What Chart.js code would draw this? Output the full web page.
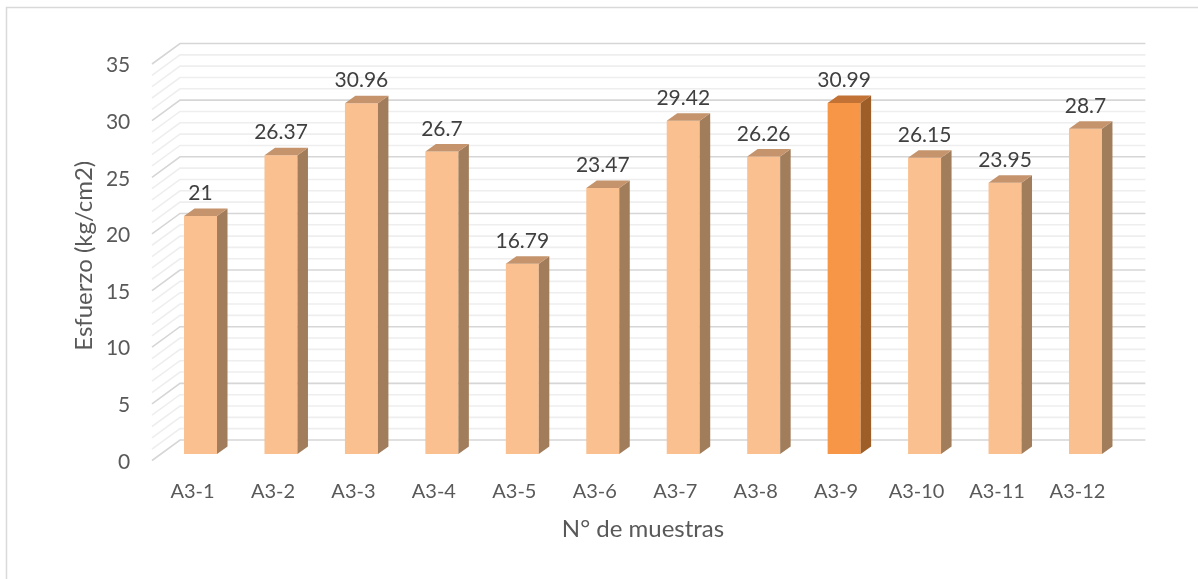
<!DOCTYPE html>
<html>
<head>
<meta charset="utf-8">
<script src="https://cdn.jsdelivr.net/npm/chart.js@4.4.1/dist/chart.umd.min.js"></script>
<style>
  html, body { margin: 0; padding: 0; background: #ffffff; }
  #wrap { width: 1198px; height: 579px; position: relative; }
</style>
</head>
<body>
<div id="wrap"><canvas id="c" width="1198" height="579"></canvas></div>
<script>
// Sample names and measured stress (kg/cm2)
const categories = ['A3-1', 'A3-2', 'A3-3', 'A3-4', 'A3-5', 'A3-6',
                    'A3-7', 'A3-8', 'A3-9', 'A3-10', 'A3-11', 'A3-12'];
const esfuerzo = [21, 26.37, 30.96, 26.7, 16.79, 23.47, 29.42, 26.26, 30.99, 26.15, 23.95, 28.7];

// Value axis range and tick step
const yMin = 0;
const yMax = 35;
const yStep = 5;

// Sample drawn in the stronger orange
const highlighted = 'A3-9';

// Styling
const FONT = 'Lato, "Open Sans", "Liberation Sans", sans-serif';
const AXIS_TEXT = '#595959';
const LABEL_TEXT = '#404040';
const PALETTE = {
  normal:    { front: '#FAC090', side: '#A27D5B', top: '#C5946C' },
  highlight: { front: '#F79646', side: '#9E5E27', top: '#C27234' }
};

// Pseudo-3D offsets relative to the plane the bars' front faces sit in
const FRONT_EDGE = { dx: -8.3, dy: 6.5 };   // front edge of the side wall
const BACK_WALL  = { dx: 19.7, dy: -14 };   // back wall
const BAR_DEPTH  = { dx: 10.5, dy: -7.5 };  // depth of each column

function paletteFor(i) {
  return categories[i] === highlighted ? PALETTE.highlight : PALETTE.normal;
}

// Outer frame of the chart object
const framePlugin = {
  id: 'frame',
  beforeDraw(chart) {
    const ctx = chart.ctx;
    ctx.save();
    ctx.strokeStyle = '#d9d9d9';
    ctx.lineWidth = 1.5;
    ctx.strokeRect(6.5, 7.5, chart.width + 50, chart.height + 50);
    ctx.restore();
  }
};

// Side wall and back wall gridlines (major every step, minor every unit)
const wallsPlugin = {
  id: 'walls',
  beforeDatasetsDraw(chart) {
    const { ctx, chartArea: area } = chart;
    const ys = chart.scales.y;
    ctx.save();
    ctx.lineCap = 'butt';
    const draw = (major) => {
      for (let v = yMin; v <= yMax; v += 1) {
        const isMajor = v % yStep === 0;
        if (isMajor !== major) continue;
        const py = ys.getPixelForValue(v);
        ctx.strokeStyle = major ? '#d6d6d6' : '#eeeeee';
        ctx.lineWidth = 1.6;
        ctx.beginPath();
        ctx.moveTo(area.left + FRONT_EDGE.dx, py + FRONT_EDGE.dy);
        ctx.lineTo(area.left + BACK_WALL.dx, py + BACK_WALL.dy);
        ctx.lineTo(area.right + BACK_WALL.dx, py + BACK_WALL.dy);
        ctx.stroke();
      }
    };
    draw(false);
    draw(true);
    ctx.restore();
  }
};

// Side and top faces of each column, plus the value label
const columnsPlugin = {
  id: 'columns',
  afterDatasetsDraw(chart) {
    const ctx = chart.ctx;
    const meta = chart.getDatasetMeta(0);
    ctx.save();
    meta.data.forEach((bar, i) => {
      const { x, y, base, width } = bar.getProps(['x', 'y', 'base', 'width'], true);
      const x0 = x - width / 2;
      const x1 = x + width / 2;
      const c = paletteFor(i);
      // right side face
      ctx.fillStyle = c.side;
      ctx.beginPath();
      ctx.moveTo(x1, y);
      ctx.lineTo(x1 + BAR_DEPTH.dx, y + BAR_DEPTH.dy);
      ctx.lineTo(x1 + BAR_DEPTH.dx, base + BAR_DEPTH.dy);
      ctx.lineTo(x1, base);
      ctx.closePath();
      ctx.fill();
      // top face
      ctx.fillStyle = c.top;
      ctx.beginPath();
      ctx.moveTo(x0, y);
      ctx.lineTo(x1, y);
      ctx.lineTo(x1 + BAR_DEPTH.dx, y + BAR_DEPTH.dy);
      ctx.lineTo(x0 + BAR_DEPTH.dx, y + BAR_DEPTH.dy);
      ctx.closePath();
      ctx.fill();
      // value label
      ctx.fillStyle = LABEL_TEXT;
      ctx.font = '21px ' + FONT;
      ctx.textAlign = 'center';
      ctx.textBaseline = 'alphabetic';
      ctx.fillText(String(esfuerzo[i]), x, y - 16);
    });
    ctx.restore();
  }
};

function build() {
  new Chart(document.getElementById('c'), {
    type: 'bar',
    data: {
      labels: categories,
      datasets: [{
        label: 'Esfuerzo',
        data: esfuerzo,
        backgroundColor: categories.map((_, i) => paletteFor(i).front),
        borderWidth: 0,
        categoryPercentage: 1,
        barPercentage: 0.41
      }]
    },
    options: {
      responsive: false,
      animation: false,
      devicePixelRatio: 1,
      layout: { padding: { top: 57.5, right: 72.3, bottom: 0, left: 0 } },
      plugins: { legend: { display: false }, tooltip: { enabled: false } },
      scales: {
        x: {
          grid: { display: false, drawTicks: false },
          border: { display: false },
          ticks: {
            color: AXIS_TEXT,
            font: { family: FONT, size: 20 },
            padding: 26,
            labelOffset: -8,
            maxRotation: 0,
            autoSkip: false
          },
          title: {
            display: true,
            text: 'N° de muestras',
            color: AXIS_TEXT,
            font: { family: FONT, size: 24 },
            padding: { top: 0, bottom: 35.6 }
          },
          afterFit(s) { s.height = 579 - 454; }
        },
        y: {
          min: yMin,
          max: yMax,
          grid: { display: false, drawTicks: false },
          border: { display: false },
          ticks: {
            stepSize: yStep,
            color: AXIS_TEXT,
            font: { family: FONT, size: 21 },
            padding: 30,
            labelOffset: 8
          },
          title: {
            display: true,
            text: 'Esfuerzo (kg/cm2)',
            color: AXIS_TEXT,
            font: { family: FONT, size: 24 },
            padding: { top: 69.6, bottom: 0 }
          },
          afterFit(s) { s.width = 160.3; }
        }
      }
    },
    plugins: [framePlugin, wallsPlugin, columnsPlugin]
  });
}

if (document.fonts && document.fonts.load) {
  document.fonts.load('20px Lato').then(build, build);
} else {
  build();
}
</script>
</body>
</html>
